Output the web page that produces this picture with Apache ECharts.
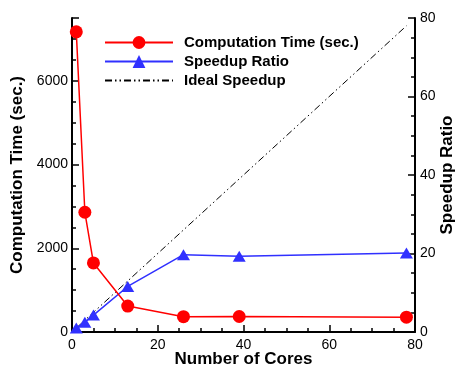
<!DOCTYPE html>
<html>
<head>
<meta charset="utf-8">
<script src="https://cdn.jsdelivr.net/npm/echarts@6/dist/echarts.min.js"></script>
<style>
  html, body { margin: 0; padding: 0; background: #fff; }
  #chart { width: 459px; height: 367px; }
</style>
</head>
<body>
<div id="chart"></div>
<script>
const cores = [1, 3, 5, 13, 26, 39, 78];
const compTime = [7170, 2860, 1650, 620, 365, 370, 355];
const speedup = [1, 2.5, 4.3, 11.6, 19.7, 19.3, 20.1];
const idealCores = [1, 78];
const idealSpeedup = [1, 78];

const FONT = 'Liberation Sans, Arial, sans-serif';
const pairs = (xs, ys) => xs.map((x, i) => [x, ys[i]]);

const chart = echarts.init(document.getElementById('chart'));

const titleStyle = { fontFamily: FONT, fontSize: 17, fontWeight: 'bold', color: '#000' };
const labelStyle = { fontFamily: FONT, fontSize: 14, color: '#000' };
const axisLine = { show: true, lineStyle: { color: '#000', width: 2 } };

const option = {
  animation: false,
  backgroundColor: '#fff',
  grid: { left: 72, right: 44, top: 18, bottom: 35, outerBoundsMode: 'none' },
  legend: {
    orient: 'vertical',
    left: 104,
    top: 35,
    padding: 0,
    itemWidth: 68,
    itemHeight: 16,
    itemGap: 4,
    data: ['Computation Time (sec.)', 'Speedup Ratio', 'Ideal Speedup'],
    textStyle: { fontFamily: FONT, fontSize: 15, fontWeight: 'bold', color: '#000', padding: [0, 0, 0, 6] },
  },
  xAxis: {
    type: 'value',
    min: 0,
    max: 80,
    interval: 20,
    name: 'Number of Cores',
    nameLocation: 'middle',
    nameGap: 19,
    nameMoveOverlap: false,
    nameTextStyle: titleStyle,
    axisLine,
    axisTick: { inside: true, length: 7, lineStyle: { color: '#000', width: 1.5 } },
    minorTick: { show: true, splitNumber: 4, length: 4, lineStyle: { color: '#000', width: 1.5 } },
    axisLabel: { ...labelStyle, margin: 6 },
    splitLine: { show: false },
  },
  yAxis: [
    {
      type: 'value',
      position: 'left',
      min: 0,
      max: 7500,
      interval: 500,
      name: 'Computation Time (sec.)',
      nameLocation: 'middle',
      nameRotate: 90,
      nameGap: 46,
      nameMoveOverlap: false,
      nameTextStyle: titleStyle,
      axisLine,
      axisTick: { inside: true, length: 4, lineStyle: { color: '#000', width: 1.5 } },
      axisLabel: {
        ...labelStyle,
        margin: 4,
        formatter: (v) => (v % 2000 === 0 ? String(v) : ''),
      },
      splitLine: { show: false },
    },
    {
      type: 'value',
      position: 'right',
      min: 0,
      max: 80,
      interval: 20,
      name: 'Speedup Ratio',
      nameLocation: 'middle',
      nameRotate: 90,
      nameGap: 24,
      nameMoveOverlap: false,
      nameTextStyle: titleStyle,
      axisLine,
      axisTick: { inside: true, length: 7, lineStyle: { color: '#000', width: 1.5 } },
      minorTick: { show: true, splitNumber: 4, length: 4, lineStyle: { color: '#000', width: 1.5 } },
      axisLabel: { ...labelStyle, margin: 5 },
      splitLine: { show: false },
    },
    {
      // major ticks of the left axis
      type: 'value',
      position: 'left',
      min: 0,
      max: 7500,
      interval: 2000,
      axisLine: { show: false },
      axisTick: { inside: true, length: 7, lineStyle: { color: '#000', width: 1.5 } },
      axisLabel: { show: false },
      splitLine: { show: false },
    },
  ],
  series: [
    {
      name: 'Ideal Speedup',
      type: 'line',
      yAxisIndex: 1,
      symbol: 'circle',
      showSymbol: false,
      data: pairs(idealCores, idealSpeedup),
      lineStyle: { color: '#000', width: 1, type: [7, 3, 1.5, 3, 1.5, 3] },
      itemStyle: { color: 'rgba(0,0,0,0)' },
      z: 2,
    },
    {
      name: 'Speedup Ratio',
      type: 'line',
      yAxisIndex: 1,
      symbol: 'triangle',
      symbolSize: [13, 11],
      data: pairs(cores, speedup),
      lineStyle: { color: '#3030ff', width: 1.5 },
      itemStyle: { color: '#3030ff' },
      z: 3,
    },
    {
      name: 'Computation Time (sec.)',
      type: 'line',
      yAxisIndex: 0,
      symbol: 'circle',
      symbolSize: 13,
      data: pairs(cores, compTime),
      lineStyle: { color: '#ff0000', width: 1.5 },
      itemStyle: { color: '#ff0000' },
      z: 4,
    },
  ],
};

chart.setOption(option);
</script>
</body>
</html>
